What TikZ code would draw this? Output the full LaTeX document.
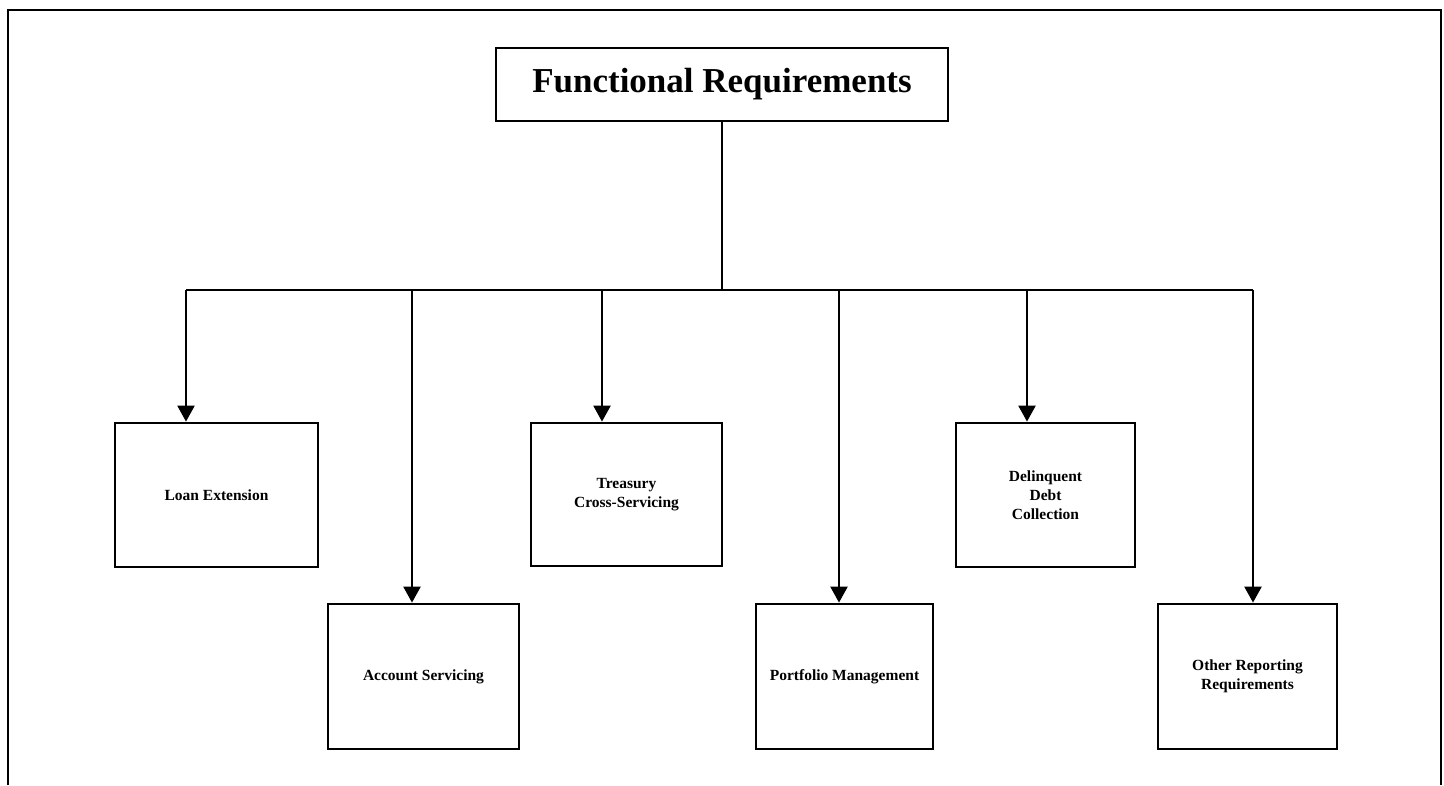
\documentclass[tikz,border=0pt]{standalone}
\usepackage{fontspec}
\setmainfont{Liberation Serif}
\usetikzlibrary{arrows.meta}

\begin{document}
\begin{tikzpicture}[x=1pt, y=-1pt,
    box/.style={draw, line width=2.8pt, inner sep=0pt, align=center,
                font=\fontsize{15.5}{19}\selectfont\bfseries},
    link/.style={line width=2.4pt},
    arr/.style={link, -{Triangle[width=17pt, length=16pt]}}]
  \useasboundingbox (0,0) rectangle (1444,785);
  % page frame, open at the bottom
  \draw[line width=2.2pt] (8,785) -- (8,10) -- (1441,10) -- (1441,785);

  \node[box, minimum width=452pt, minimum height=73pt,
        font=\fontsize{35}{40}\selectfont\bfseries] (top) at (722,84.5) {Functional Requirements};

  \node[box, minimum width=203pt, minimum height=144pt] (loan) at (216.5,495) {Loan Extension};
  \node[box, minimum width=191pt, minimum height=143pt] (treasury) at (626.5,494.5) {Treasury\\Cross-Servicing};
  \node[box, minimum width=179pt, minimum height=144pt] (debt) at (1045.5,495) {Delinquent\\Debt\\Collection};
  \node[box, minimum width=191pt, minimum height=145pt] (account) at (423.5,676.5) {Account Servicing};
  \node[box, minimum width=177pt, minimum height=145pt] (portfolio) at (844.5,676.5) {Portfolio Management};
  \node[box, minimum width=179pt, minimum height=145pt] (other) at (1247.5,676.5) {Other Reporting\\Requirements};

  \coordinate (hub) at (722,290);
  \coordinate (j1) at (186,290);
  \coordinate (j2) at (412,290);
  \coordinate (j3) at (602,290);
  \coordinate (j4) at (839,290);
  \coordinate (j5) at (1027,290);
  \coordinate (j6) at (1253,290);

  \draw[link] (top.south) -- (hub);
  \draw[link] (j1) -- (j6);

  \draw[arr] (j1) -- (j1 |- loan.north);
  \draw[arr] (j2) -- (j2 |- account.north);
  \draw[arr] (j3) -- (j3 |- treasury.north);
  \draw[arr] (j4) -- (j4 |- portfolio.north);
  \draw[arr] (j5) -- (j5 |- debt.north);
  \draw[arr] (j6) -- (j6 |- other.north);
\end{tikzpicture}
\end{document}
